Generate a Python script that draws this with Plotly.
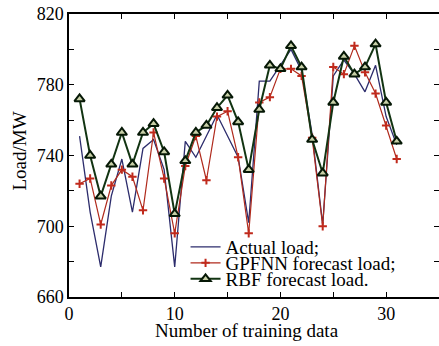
import plotly.graph_objects as go

x_vals = list(range(1, 32))
actual = [751, 708, 677, 717, 738, 708, 744, 749, 732, 677, 748, 739, 751, 763, 751,
          739, 702, 782, 782, 791, 800, 788, 752, 701, 785, 794, 786, 776, 791, 762, 746]
gpfnn = [724, 727, 701, 723, 732, 728, 709, 753, 727, 696, 734, 751, 726, 762, 765,
         739, 696, 770, 773, 789, 789, 785, 750, 700, 790, 786, 802, 787, 775, 757, 738]
rbf = [772, 740, 717, 735, 753, 735, 753, 758, 742, 707, 737, 753, 757, 767, 774,
       759, 732, 766, 791, 789, 802, 790, 749, 730, 770, 796, 786, 790, 803, 770, 748]
y_ticks = [660, 700, 740, 780, 820]
x_ticks = [0, 10, 20, 30]

FONT = "Liberation Serif, Times New Roman, Tinos, DejaVu Serif, serif"

fig = go.Figure()
fig.add_trace(go.Scatter(x=x_vals, y=actual, mode="lines", name="Actual load;",
                         line=dict(color="#2c2c6c", width=1.3), legend="legend"))
fig.add_trace(go.Scatter(x=x_vals, y=gpfnn, mode="lines+markers", name="GPFNN forecast load;",
                         line=dict(color="#b02a1c", width=1.2),
                         marker=dict(symbol="cross-thin", size=6, color="#c02a1c",
                                     line=dict(color="#c02a1c", width=2)),
                         legend="legend2"))
fig.add_trace(go.Scatter(x=x_vals, y=rbf, mode="lines+markers", name="RBF forecast load.",
                         line=dict(color="#123412", width=2),
                         marker=dict(symbol="triangle-up", size=9, color="#c8d0a8",
                                     line=dict(color="#061806", width=2)),
                         legend="legend3"))

def py(p):
    return 1 - (p - 14) / 283.0

leg_common = dict(bgcolor="rgba(0,0,0,0)", borderwidth=0, xanchor="left", yanchor="middle",
                  font=dict(family=FONT, size=19, color="black"), x=0.315, itemwidth=30)
fig.update_layout(
    width=439, height=346,
    margin=dict(l=69, r=0, t=14, b=49, autoexpand=False),
    paper_bgcolor="white", plot_bgcolor="white",
    showlegend=True,
    legend=dict(y=py(247), **leg_common),
    legend2=dict(y=py(263), **leg_common),
    legend3=dict(y=py(279), **leg_common),
    font=dict(family=FONT, size=17, color="black"),
)
xt = [0, 5, 10, 15, 20, 25, 30, 35]
fig.update_xaxes(range=[0, 35], automargin=False, showgrid=False, zeroline=False, showline=True,
                 linecolor="black", linewidth=1.5, mirror="ticks", ticks="inside",
                 ticklen=5, tickcolor="black",
                 tickvals=xt, ticktext=[str(v) if v in x_ticks else "" for v in xt],
                 tickfont=dict(family=FONT, size=18, color="black"))
yt = list(range(660, 821, 20))
fig.update_yaxes(range=[660, 820], automargin=False, showgrid=False, zeroline=False, showline=True,
                 linecolor="black", linewidth=1.5, mirror="ticks", ticks="inside",
                 ticklen=5, tickcolor="black",
                 tickvals=yt, ticktext=[str(v) if v in y_ticks else "" for v in yt],
                 tickfont=dict(family=FONT, size=18, color="black"))
fig.add_annotation(text="Number of training data", xref="paper", yref="paper",
                   x=(247 - 69) / 370.0, y=py(330), xanchor="center", yanchor="middle",
                   showarrow=False, font=dict(family=FONT, size=19, color="black"))
fig.add_annotation(text="Load/MW", xref="paper", yref="paper", textangle=-90,
                   x=(18.5 - 69) / 370.0, y=py(151), xanchor="center", yanchor="middle",
                   showarrow=False, font=dict(family=FONT, size=19, color="black"))

fig.write_html("out.html", config={"displayModeBar": False},
               post_script="document.body.style.margin='0px';document.body.style.overflow='hidden';")
